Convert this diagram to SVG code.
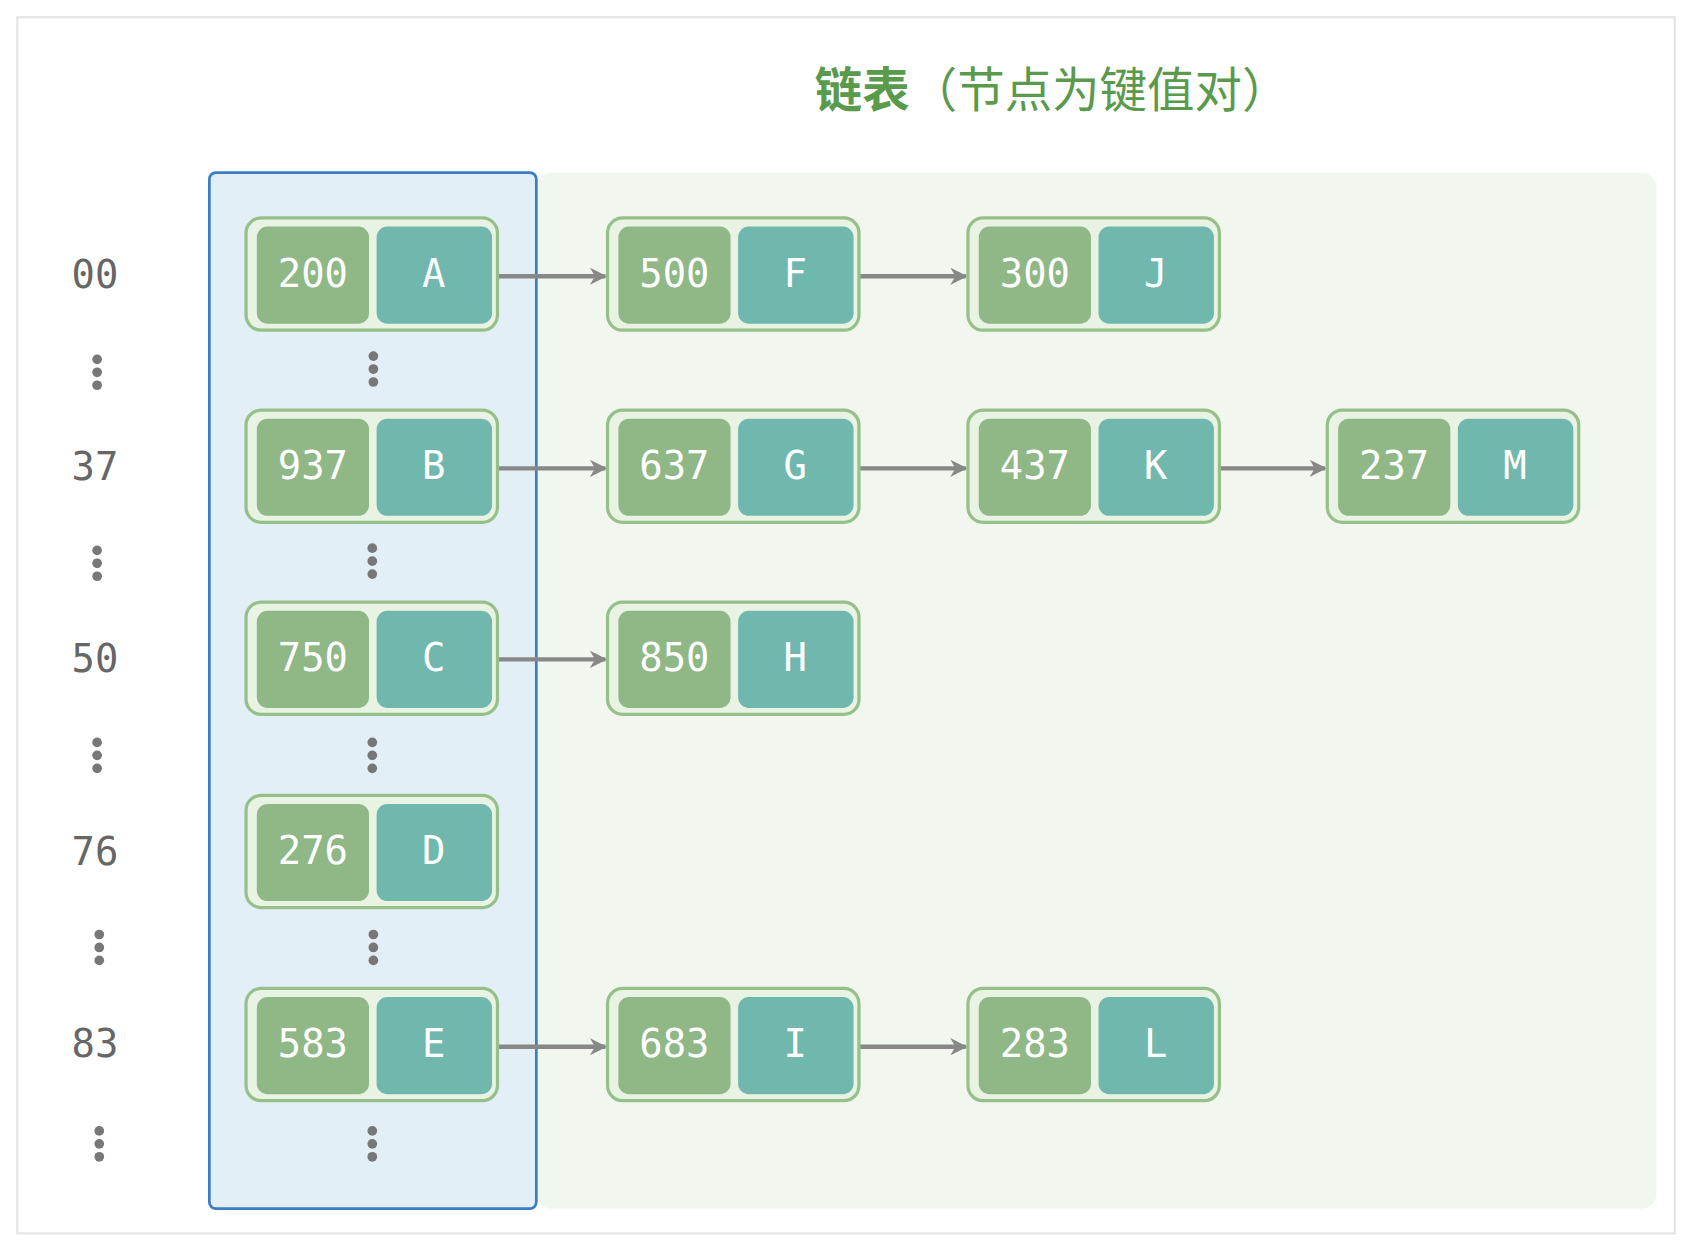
<svg xmlns="http://www.w3.org/2000/svg" width="1692" height="1252" viewBox="0 0 1692 1252">
<defs>
<style>
.o{fill:#e8f3e3;stroke:#96c08a;stroke-width:3}
.k{fill:#8fb886}
.v{fill:#70b8ae}
.t{font-family:"DejaVu Sans Mono",monospace;font-size:36px;fill:#fff;text-anchor:middle;dominant-baseline:central}
.i{font-family:"DejaVu Sans Mono",monospace;font-size:36px;fill:#666;text-anchor:middle;dominant-baseline:central}
.c{stroke:#888;stroke-width:4;fill:none;marker-end:url(#a)}
.d{fill:#777}
</style>
<marker id="a" viewBox="0 0 10 10" refX="9" refY="5" markerWidth="4" markerHeight="4" orient="auto" markerUnits="strokeWidth"><path d="M0,0L10,5L0,10L3,5z" fill="#888"/></marker>
<symbol id="dots" overflow="visible"><circle class="d" cx="0" cy="-12" r="4.5"/><circle class="d" cx="0" cy="0" r="4.5"/><circle class="d" cx="0" cy="12" r="4.5"/></symbol>
</defs>
<rect width="1692" height="1252" fill="#fff"/>
<g transform="scale(1.0791)">
<rect x="16" y="16" width="1536" height="1127" fill="#fff" stroke="#e4e4e4" stroke-width="2"/>
<text x="975" y="80" font-family="'Noto Sans CJK SC',sans-serif" font-size="44" fill="#5a9a4c" text-anchor="middle" dominant-baseline="central"><tspan font-weight="bold">链表</tspan>（节点为键值对）</text>
<rect x="497" y="160" width="1038" height="960" rx="14" fill="#f1f6ef"/>
<rect x="194" y="160" width="303" height="960" rx="6" fill="#e2eff7" stroke="#3c7cc4" stroke-width="2.5"/>
<g id="idx">
<text class="i" x="88" y="254">00</text><text class="i" x="88" y="432">37</text><text class="i" x="88" y="610">50</text><text class="i" x="88" y="789">76</text><text class="i" x="88" y="967">83</text>
<use href="#dots" x="90" y="345"/><use href="#dots" x="90" y="522"/><use href="#dots" x="90" y="700"/><use href="#dots" x="92" y="878"/><use href="#dots" x="92" y="1060"/>
<use href="#dots" x="346" y="342"/><use href="#dots" x="345" y="520"/><use href="#dots" x="345" y="700"/><use href="#dots" x="346" y="878"/><use href="#dots" x="345" y="1060"/>
</g>
<g id="connectors">
<path class="c" d="M462,256H561"/><path class="c" d="M797,256H895"/>
<path class="c" d="M462,434H561"/><path class="c" d="M797,434H895"/><path class="c" d="M1131,434H1228"/>
<path class="c" d="M462,611H561"/>
<path class="c" d="M462,970H561"/><path class="c" d="M797,970H895"/>
</g>
<g id="nA" transform="translate(228,202)"><rect class="o" width="233" height="104" rx="14"/><rect class="k" x="10" y="8" width="104" height="90" rx="10"/><rect class="v" x="121" y="8" width="107" height="90" rx="10"/><text class="t" x="62" y="51">200</text><text class="t" x="174" y="51">A</text></g>
<g id="nB" transform="translate(228,380)"><rect class="o" width="233" height="104" rx="14"/><rect class="k" x="10" y="8" width="104" height="90" rx="10"/><rect class="v" x="121" y="8" width="107" height="90" rx="10"/><text class="t" x="62" y="51">937</text><text class="t" x="174" y="51">B</text></g>
<g id="nC" transform="translate(228,558)"><rect class="o" width="233" height="104" rx="14"/><rect class="k" x="10" y="8" width="104" height="90" rx="10"/><rect class="v" x="121" y="8" width="107" height="90" rx="10"/><text class="t" x="62" y="51">750</text><text class="t" x="174" y="51">C</text></g>
<g id="nD" transform="translate(228,737)"><rect class="o" width="233" height="104" rx="14"/><rect class="k" x="10" y="8" width="104" height="90" rx="10"/><rect class="v" x="121" y="8" width="107" height="90" rx="10"/><text class="t" x="62" y="51">276</text><text class="t" x="174" y="51">D</text></g>
<g id="nE" transform="translate(228,916)"><rect class="o" width="233" height="104" rx="14"/><rect class="k" x="10" y="8" width="104" height="90" rx="10"/><rect class="v" x="121" y="8" width="107" height="90" rx="10"/><text class="t" x="62" y="51">583</text><text class="t" x="174" y="51">E</text></g>
<g id="nF" transform="translate(563,202)"><rect class="o" width="233" height="104" rx="14"/><rect class="k" x="10" y="8" width="104" height="90" rx="10"/><rect class="v" x="121" y="8" width="107" height="90" rx="10"/><text class="t" x="62" y="51">500</text><text class="t" x="174" y="51">F</text></g>
<g id="nG" transform="translate(563,380)"><rect class="o" width="233" height="104" rx="14"/><rect class="k" x="10" y="8" width="104" height="90" rx="10"/><rect class="v" x="121" y="8" width="107" height="90" rx="10"/><text class="t" x="62" y="51">637</text><text class="t" x="174" y="51">G</text></g>
<g id="nH" transform="translate(563,558)"><rect class="o" width="233" height="104" rx="14"/><rect class="k" x="10" y="8" width="104" height="90" rx="10"/><rect class="v" x="121" y="8" width="107" height="90" rx="10"/><text class="t" x="62" y="51">850</text><text class="t" x="174" y="51">H</text></g>
<g id="nI" transform="translate(563,916)"><rect class="o" width="233" height="104" rx="14"/><rect class="k" x="10" y="8" width="104" height="90" rx="10"/><rect class="v" x="121" y="8" width="107" height="90" rx="10"/><text class="t" x="62" y="51">683</text><text class="t" x="174" y="51">I</text></g>
<g id="nJ" transform="translate(897,202)"><rect class="o" width="233" height="104" rx="14"/><rect class="k" x="10" y="8" width="104" height="90" rx="10"/><rect class="v" x="121" y="8" width="107" height="90" rx="10"/><text class="t" x="62" y="51">300</text><text class="t" x="174" y="51">J</text></g>
<g id="nK" transform="translate(897,380)"><rect class="o" width="233" height="104" rx="14"/><rect class="k" x="10" y="8" width="104" height="90" rx="10"/><rect class="v" x="121" y="8" width="107" height="90" rx="10"/><text class="t" x="62" y="51">437</text><text class="t" x="174" y="51">K</text></g>
<g id="nL" transform="translate(897,916)"><rect class="o" width="233" height="104" rx="14"/><rect class="k" x="10" y="8" width="104" height="90" rx="10"/><rect class="v" x="121" y="8" width="107" height="90" rx="10"/><text class="t" x="62" y="51">283</text><text class="t" x="174" y="51">L</text></g>
<g id="nM" transform="translate(1230,380)"><rect class="o" width="233" height="104" rx="14"/><rect class="k" x="10" y="8" width="104" height="90" rx="10"/><rect class="v" x="121" y="8" width="107" height="90" rx="10"/><text class="t" x="62" y="51">237</text><text class="t" x="174" y="51">M</text></g>
</g>
</svg>
